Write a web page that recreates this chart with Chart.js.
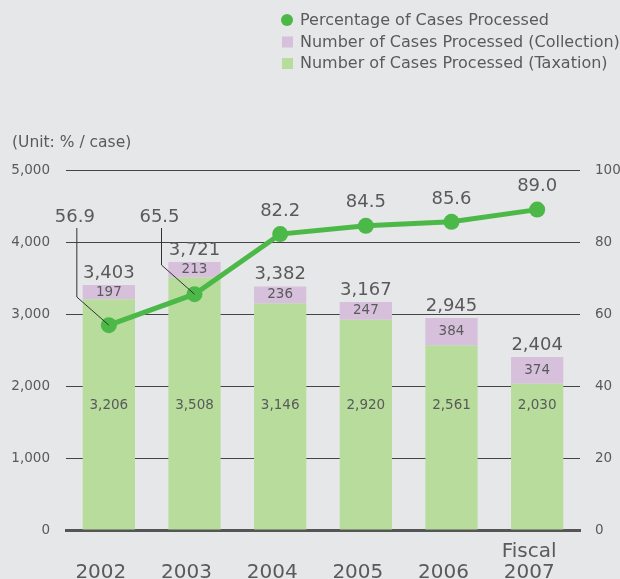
<!DOCTYPE html>
<html>
<head>
<meta charset="utf-8">
<script src="https://cdn.jsdelivr.net/npm/chart.js@4"></script>
<style>
  html, body { margin: 0; padding: 0; background: #e6e7e9; }
  #chart { display: block; }
</style>
</head>
<body>
<canvas id="chart" width="620" height="579"></canvas>
<script>
// Data
const years = ['2002', '2003', '2004', '2005', '2006', ['Fiscal', '2007']];
const taxation = [3206, 3508, 3146, 2920, 2561, 2030];
const collection = [197, 213, 236, 247, 384, 374];
const percentProcessed = [56.9, 65.5, 82.2, 84.5, 85.6, 89.0];
const leftTicks = [0, 1000, 2000, 3000, 4000, 5000];
const rightTicks = [0, 20, 40, 60, 80, 100];

const TEXT = '#5a5a5a';
const FONT = '"DejaVu Sans", "Noto Sans", sans-serif';
const GREEN_LINE = '#4cb848';
const GREEN_BAR = '#b7dc9c';
const PURPLE_BAR = '#d6c0dc';

function fmt(n) {
    return n.toLocaleString('en-US');
}

/**
 * Legend, unit note and value labels drawn on top of the chart
 */
const labelsPlugin = {
    id: 'labels',
    afterDatasetsDraw(chart) {
        const ctx = chart.ctx;
        const lineMeta = chart.getDatasetMeta(0);
        const taxMeta = chart.getDatasetMeta(1);
        const collMeta = chart.getDatasetMeta(2);
        const yScale = chart.scales.y;

        ctx.save();
        ctx.fillStyle = TEXT;
        ctx.textAlign = 'center';
        ctx.textBaseline = 'middle';

        taxMeta.data.forEach((bar, i) => {
            // taxation value, all at the same height
            ctx.font = '13.5px ' + FONT;
            ctx.fillText(fmt(taxation[i]), bar.x, yScale.getPixelForValue(1730));
            // collection value inside the purple block
            const top = collMeta.data[i];
            ctx.fillText(fmt(collection[i]), top.x, (top.y + top.base) / 2);
            // total above the bar
            ctx.font = '18px ' + FONT;
            ctx.fillText(fmt(taxation[i] + collection[i]), top.x, top.y - 12);
        });

        // percentage labels
        ctx.font = '18px ' + FONT;
        lineMeta.data.forEach((pt, i) => {
            const label = percentProcessed[i].toFixed(1);
            if (i < 2) {
                // first two sit up-left with a leader line
                const lx = pt.x - (i === 0 ? 34 : 35);
                const ly = 217;
                const bendY = i === 0 ? 297 : 265;
                ctx.fillText(label, lx, ly);
                ctx.strokeStyle = '#333';
                ctx.lineWidth = 1;
                ctx.beginPath();
                ctx.moveTo(lx + 2, ly + 11);
                ctx.lineTo(lx + 2, bendY);
                ctx.lineTo(pt.x, pt.y);
                ctx.stroke();
            } else {
                ctx.fillText(label, pt.x, pt.y - 23);
            }
        });

        // unit note
        ctx.textAlign = 'left';
        ctx.font = '15.5px ' + FONT;
        ctx.fillText('(Unit: % / case)', 12, 143);

        // legend
        ctx.font = '16px ' + FONT;
        const items = [
            { text: 'Percentage of Cases Processed', color: GREEN_LINE, circle: true },
            { text: 'Number of Cases Processed (Collection)', color: PURPLE_BAR },
            { text: 'Number of Cases Processed (Taxation)', color: GREEN_BAR }
        ];
        items.forEach((it, i) => {
            const y = 20 + i * 21.5;
            ctx.fillStyle = it.color;
            if (it.circle) {
                ctx.beginPath();
                ctx.arc(287, y, 6, 0, Math.PI * 2);
                ctx.fill();
            } else {
                ctx.fillRect(282, y - 5, 11, 11);
            }
            ctx.fillStyle = TEXT;
            ctx.fillText(it.text, 300, y + 1);
        });
        ctx.restore();
    }
};

new Chart(document.getElementById('chart'), {
    data: {
        labels: years,
        datasets: [
            {
                type: 'line',
                label: 'Percentage of Cases Processed',
                data: percentProcessed,
                yAxisID: 'y1',
                borderColor: GREEN_LINE,
                backgroundColor: GREEN_LINE,
                borderWidth: 5,
                pointRadius: 8,
                pointBorderWidth: 0,
                order: 0
            },
            {
                type: 'bar',
                label: 'Number of Cases Processed (Taxation)',
                data: taxation,
                backgroundColor: GREEN_BAR,
                stack: 'cases',
                yAxisID: 'y',
                barPercentage: 0.61,
                categoryPercentage: 1,
                order: 1
            },
            {
                type: 'bar',
                label: 'Number of Cases Processed (Collection)',
                data: collection,
                backgroundColor: PURPLE_BAR,
                stack: 'cases',
                yAxisID: 'y',
                barPercentage: 0.61,
                categoryPercentage: 1,
                order: 1
            }
        ]
    },
    options: {
        responsive: false,
        animation: false,
        layout: { padding: { top: 170, left: 0, right: 0, bottom: 0 } },
        plugins: {
            legend: { display: false },
            tooltip: { enabled: false }
        },
        scales: {
            x: {
                stacked: true,
                grid: { display: false },
                border: { display: true, color: '#555', width: 3 },
                ticks: {
                    color: TEXT,
                    font: { size: 20, family: FONT, lineHeight: 1.05 },
                    padding: 14,
                    labelOffset: -8,
                    crossAlign: 'far',
                    maxRotation: 0
                },
                afterFit(scale) { scale.height = 49; }
            },
            y: {
                stacked: true,
                position: 'left',
                min: 0,
                max: 5000,
                afterBuildTicks(scale) { scale.ticks = leftTicks.map(v => ({ value: v })); },
                grid: { color: '#444', lineWidth: 1, drawTicks: false },
                border: { display: false },
                ticks: {
                    color: TEXT,
                    font: { size: 13.5, family: FONT },
                    padding: 16,
                    callback: v => fmt(v)
                },
                afterFit(scale) { scale.width = 66; }
            },
            y1: {
                position: 'right',
                min: 0,
                max: 100,
                afterBuildTicks(scale) { scale.ticks = rightTicks.map(v => ({ value: v })); },
                grid: { display: false, drawTicks: false },
                border: { display: false },
                ticks: {
                    color: TEXT,
                    font: { size: 13.5, family: FONT },
                    padding: 15
                },
                afterFit(scale) { scale.width = 40; }
            }
        }
    },
    plugins: [labelsPlugin]
});
</script>
</body>
</html>
